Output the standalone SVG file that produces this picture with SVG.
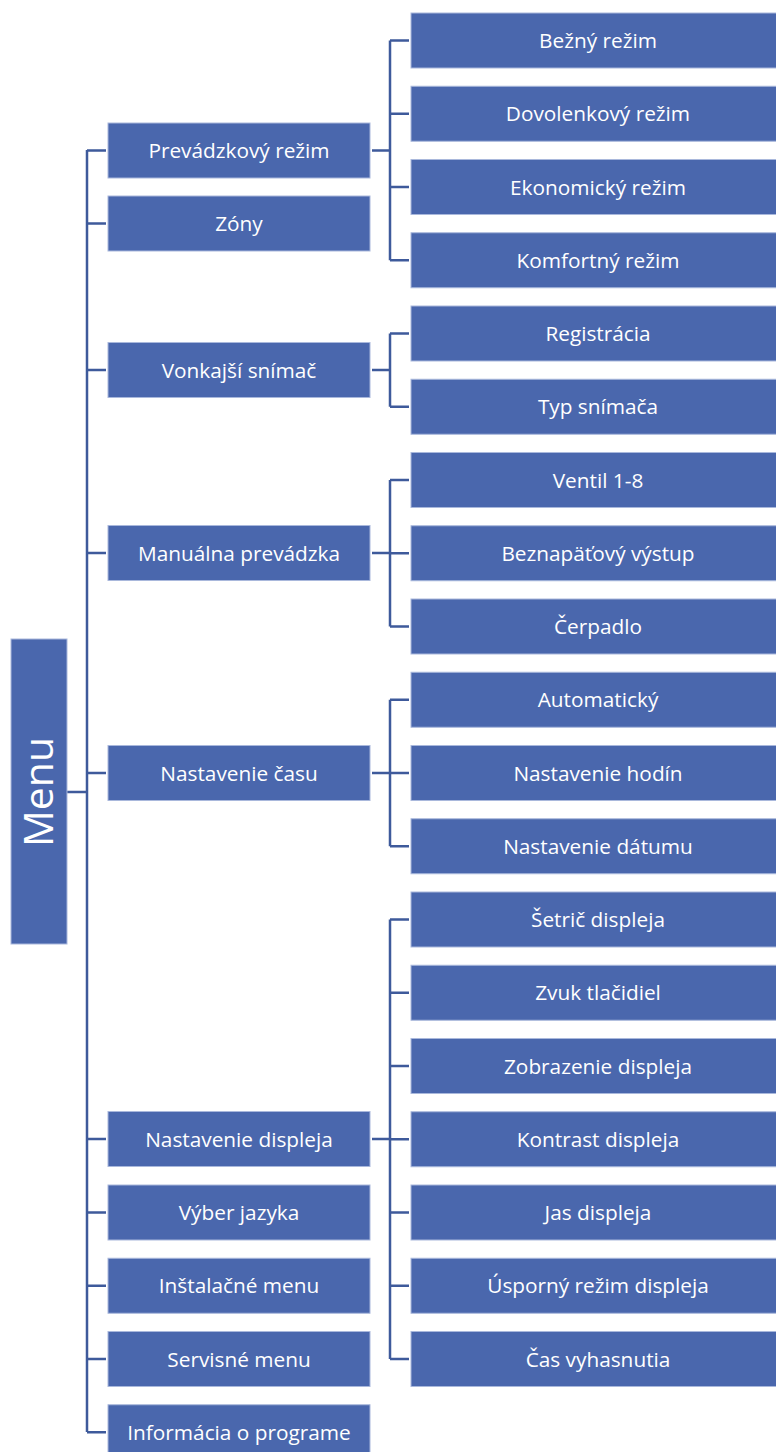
<svg xmlns="http://www.w3.org/2000/svg" width="776" height="1452" viewBox="0 0 776 1452">
<style>
.b{fill:#4A67AD;stroke:#A9B8DC;stroke-width:1}
.t{fill:#FFFFFF;font-family:"Open Sans",sans-serif;font-size:20.8px;text-anchor:middle}
.c{fill:none;stroke:#3E5A9B;stroke-width:2.5}
</style>
<rect width="776" height="1452" fill="#FFFFFF"/>
<g id="connectors" class="c">
<path d="M67 792H87M87 150V1432"/>
<path d="M87 150.5H106M87 223.5H106M87 370H106M87 553H106M87 773H106M87 1139H106M87 1212.5H106M87 1285.75H106M87 1359H106M87 1432.25H106"/>
<path d="M372 150.5H390M390 40.5V260.25M390 40.5H409M390 113.75H409M390 187H409M390 260.25H409"/>
<path d="M372 370H390M390 333.5V406.75M390 333.5H409M390 406.75H409"/>
<path d="M372 553H390M390 480V626.5M390 480H409M390 553.25H409M390 626.5H409"/>
<path d="M372 773H390M390 699.75V846.25M390 699.75H409M390 773H409M390 846.25H409"/>
<path d="M372 1139H390M390 919.5V1359M390 919.5H409M390 992.75H409M390 1066H409M390 1139.25H409M390 1212.5H409M390 1285.75H409M390 1359H409"/>
</g>
<g id="menu"><rect class="b" x="11" y="639" width="56" height="305"/><text x="53" y="792" transform="rotate(-90 53 792)" style="fill:#fff;font-family:'Open Sans',sans-serif;font-size:41px;text-anchor:middle">Menu</text></g>
<g id="prevadzkovy"><rect class="b" x="108" y="123" width="262" height="55"/><text class="t" x="239" y="158">Prevádzkový režim</text></g>
<g id="zony"><rect class="b" x="108" y="196" width="262" height="55"/><text class="t" x="239" y="231">Zóny</text></g>
<g id="vonkajsi"><rect class="b" x="108" y="342.5" width="262" height="55"/><text class="t" x="239" y="377.5">Vonkajší snímač</text></g>
<g id="manualna"><rect class="b" x="108" y="525.5" width="262" height="55"/><text class="t" x="239" y="560.5">Manuálna prevádzka</text></g>
<g id="cas"><rect class="b" x="108" y="745.5" width="262" height="55"/><text class="t" x="239" y="780.5">Nastavenie času</text></g>
<g id="displej"><rect class="b" x="108" y="1111.5" width="262" height="55"/><text class="t" x="239" y="1146.5">Nastavenie displeja</text></g>
<g id="jazyk"><rect class="b" x="108" y="1185" width="262" height="55"/><text class="t" x="239" y="1220">Výber jazyka</text></g>
<g id="instalacne"><rect class="b" x="108" y="1258.25" width="262" height="55"/><text class="t" x="239" y="1293.25">Inštalačné menu</text></g>
<g id="servisne"><rect class="b" x="108" y="1331.5" width="262" height="55"/><text class="t" x="239" y="1366.5">Servisné menu</text></g>
<g id="informacia"><rect class="b" x="108" y="1404.75" width="262" height="55"/><text class="t" x="239" y="1439.75">Informácia o programe</text></g>
<g id="bezny"><rect class="b" x="411" y="13" width="375" height="55"/><text class="t" x="598" y="48">Bežný režim</text></g>
<g id="dovolenkovy"><rect class="b" x="411" y="86.25" width="375" height="55"/><text class="t" x="598" y="121.25">Dovolenkový režim</text></g>
<g id="ekonomicky"><rect class="b" x="411" y="159.5" width="375" height="55"/><text class="t" x="598" y="194.5">Ekonomický režim</text></g>
<g id="komfortny"><rect class="b" x="411" y="232.75" width="375" height="55"/><text class="t" x="598" y="267.75">Komfortný režim</text></g>
<g id="registracia"><rect class="b" x="411" y="306" width="375" height="55"/><text class="t" x="598" y="341">Registrácia</text></g>
<g id="typ"><rect class="b" x="411" y="379.25" width="375" height="55"/><text class="t" x="598" y="414.25">Typ snímača</text></g>
<g id="ventil"><rect class="b" x="411" y="452.5" width="375" height="55"/><text class="t" x="598" y="487.5">Ventil 1-8</text></g>
<g id="beznapatovy"><rect class="b" x="411" y="525.75" width="375" height="55"/><text class="t" x="598" y="560.75">Beznapäťový výstup</text></g>
<g id="cerpadlo"><rect class="b" x="411" y="599" width="375" height="55"/><text class="t" x="598" y="634">Čerpadlo</text></g>
<g id="automaticky"><rect class="b" x="411" y="672.25" width="375" height="55"/><text class="t" x="598" y="707.25">Automatický</text></g>
<g id="hodin"><rect class="b" x="411" y="745.5" width="375" height="55"/><text class="t" x="598" y="780.5">Nastavenie hodín</text></g>
<g id="datumu"><rect class="b" x="411" y="818.75" width="375" height="55"/><text class="t" x="598" y="853.75">Nastavenie dátumu</text></g>
<g id="setric"><rect class="b" x="411" y="892" width="375" height="55"/><text class="t" x="598" y="927">Šetrič displeja</text></g>
<g id="zvuk"><rect class="b" x="411" y="965.25" width="375" height="55"/><text class="t" x="598" y="1000.25">Zvuk tlačidiel</text></g>
<g id="zobrazenie"><rect class="b" x="411" y="1038.5" width="375" height="55"/><text class="t" x="598" y="1073.5">Zobrazenie displeja</text></g>
<g id="kontrast"><rect class="b" x="411" y="1111.75" width="375" height="55"/><text class="t" x="598" y="1146.75">Kontrast displeja</text></g>
<g id="jas"><rect class="b" x="411" y="1185" width="375" height="55"/><text class="t" x="598" y="1220">Jas displeja</text></g>
<g id="usporny"><rect class="b" x="411" y="1258.25" width="375" height="55"/><text class="t" x="598" y="1293.25">Úsporný režim displeja</text></g>
<g id="vyhasnutia"><rect class="b" x="411" y="1331.5" width="375" height="55"/><text class="t" x="598" y="1366.5">Čas vyhasnutia</text></g>
</svg>
